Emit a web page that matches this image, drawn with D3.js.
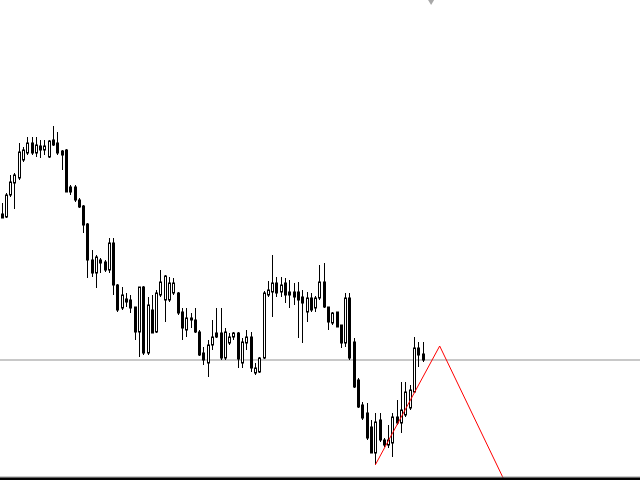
<!DOCTYPE html>
<html><head><meta charset="utf-8">
<script src="https://cdn.jsdelivr.net/npm/d3@7"></script>
<style>html,body{margin:0;padding:0;background:#fff;overflow:hidden}</style>
</head><body>
<svg id="c" width="640" height="480"></svg>
<script>
const opens  = [1.3145,1.3142,1.3164,1.3176,1.3181,1.3199,1.3206,1.3216,1.3206,1.3213,1.3209,1.3202,1.3219,1.3216,1.3208,1.3209,1.3172,1.3172,1.3159,1.3153,1.3135,1.3099,1.3086,1.3099,1.3097,1.3089,1.3116,1.3074,1.3051,1.3060,1.3059,1.3052,1.3027,1.3072,1.3006,1.3049,1.3027,1.3064,1.3059,1.3059,1.3066,1.3066,1.3047,1.3029,1.3041,1.3039,1.3027,1.3006,1.2996,1.3014,1.3026,1.3026,1.3001,1.3016,1.3022,1.3026,1.2996,1.3016,1.3022,1.2986,1.2987,1.3001,1.3064,1.3067,1.3076,1.3067,1.3076,1.3067,1.3067,1.3067,1.3062,1.3047,1.3061,1.3051,1.3061,1.3077,1.3052,1.3036,1.3047,1.3034,1.3016,1.3061,1.3017,1.2979,1.2954,1.2946,1.2932,1.2906,1.2939,1.2919,1.2914,1.2916,1.2942,1.2936,1.2944,1.2951,1.2967,1.3011,1.3005];
const highs  = [1.3156,1.3166,1.3184,1.3186,1.3216,1.3212,1.3222,1.3222,1.3222,1.3219,1.3219,1.3219,1.3233,1.3227,1.3209,1.3210,1.3174,1.3174,1.3161,1.3154,1.3136,1.3109,1.3104,1.3101,1.3099,1.3121,1.3121,1.3075,1.3072,1.3066,1.3064,1.3052,1.3072,1.3073,1.3062,1.3064,1.3069,1.3089,1.3084,1.3082,1.3081,1.3067,1.3051,1.3051,1.3046,1.3051,1.3029,1.3012,1.3019,1.3039,1.3051,1.3051,1.3031,1.3026,1.3027,1.3027,1.3021,1.3029,1.3027,1.2996,1.3002,1.3068,1.3078,1.3104,1.3082,1.3082,1.3081,1.3079,1.3076,1.3077,1.3069,1.3067,1.3066,1.3063,1.3094,1.3096,1.3052,1.3047,1.3047,1.3034,1.3066,1.3066,1.3021,1.2981,1.2957,1.2956,1.2939,1.2946,1.2946,1.2921,1.2934,1.2946,1.2959,1.2977,1.2977,1.2974,1.3022,1.3017,1.3017];
const lows   = [1.3141,1.3141,1.3162,1.3150,1.3179,1.3197,1.3204,1.3204,1.3202,1.3201,1.3204,1.3201,1.3213,1.3204,1.3189,1.3167,1.3164,1.3157,1.3151,1.3126,1.3081,1.3082,1.3071,1.3086,1.3087,1.3086,1.3064,1.3047,1.3049,1.3052,1.3046,1.3019,1.3002,1.3004,1.3004,1.3026,1.3026,1.3062,1.3037,1.3057,1.3064,1.3044,1.3019,1.3022,1.3031,1.3026,1.3003,1.2994,1.2982,1.3009,1.3021,1.2999,1.2999,1.3014,1.3019,1.2991,1.2991,1.3009,1.2987,1.2984,1.2986,1.3000,1.3062,1.3042,1.3062,1.3062,1.3056,1.3051,1.3054,1.3021,1.3016,1.3037,1.3047,1.3047,1.3059,1.3051,1.3029,1.3034,1.3032,1.3011,1.3012,1.2999,1.2971,1.2951,1.2939,1.2919,1.2906,1.2894,1.2917,1.2912,1.2911,1.2902,1.2934,1.2926,1.2942,1.2949,1.2966,1.2992,1.2997];
const closes = [1.3141,1.3164,1.3177,1.3184,1.3207,1.3209,1.3216,1.3206,1.3214,1.3209,1.3213,1.3218,1.3214,1.3206,1.3204,1.3167,1.3167,1.3159,1.3152,1.3134,1.3099,1.3086,1.3102,1.3096,1.3089,1.3116,1.3074,1.3049,1.3064,1.3057,1.3051,1.3027,1.3072,1.3006,1.3054,1.3026,1.3066,1.3077,1.3083,1.3076,1.3076,1.3046,1.3031,1.3041,1.3039,1.3027,1.3004,1.2999,1.3014,1.3022,1.3022,1.3001,1.3027,1.3022,1.3026,1.3000,1.3017,1.3022,1.2991,1.2991,1.3001,1.3066,1.3069,1.3076,1.3066,1.3074,1.3064,1.3064,1.3062,1.3059,1.3056,1.3061,1.3049,1.3061,1.3077,1.3052,1.3037,1.3046,1.3032,1.3016,1.3061,1.3001,1.2972,1.2952,1.2941,1.2921,1.2906,1.2937,1.2919,1.2914,1.2919,1.2942,1.2936,1.2949,1.2967,1.2969,1.3011,1.3004,1.2999];
const levelPrice = 1.3000;
const zigIndex = [87, 102, 117];
const zigPrice = [1.2894, 1.3013, 1.2879];
const markerIndex = 100;

const W = 640, H = 478;
const svg = d3.select("#c");
const x = d3.scaleLinear().domain([0, 98]).range([1.5, 422.5]);
const y = d3.scaleLinear().domain([1.2879, 1.3359]).range([480, 0]);

const data = opens.map((o, i) => ({i, o, h: highs[i], l: lows[i], c: closes[i]}));

svg.append("defs").append("clipPath").attr("id", "clip")
  .append("rect").attr("x", 0).attr("y", 0).attr("width", W).attr("height", H);

const g = svg.append("g").attr("clip-path", "url(#clip)");

// horizontal level line
g.append("line").attr("x1", 0).attr("x2", W)
  .attr("y1", y(levelPrice) + 1).attr("y2", y(levelPrice) + 1)
  .attr("stroke", "#c8c8c8").attr("stroke-width", 2);

const cx = d => Math.round(x(d.i)) + 0.5;
const candles = g.append("g").selectAll("g").data(data).join("g");
candles.append("line")
  .attr("x1", cx).attr("x2", cx)
  .attr("y1", d => y(d.h)).attr("y2", d => y(d.l))
  .attr("stroke", "#000").attr("stroke-width", 1);
candles.append("rect")
  .attr("x", d => cx(d) - 1).attr("width", 2)
  .attr("y", d => y(Math.max(d.o, d.c)))
  .attr("height", d => Math.max(0.5, Math.abs(y(d.o) - y(d.c))))
  .attr("fill", d => d.c >= d.o ? "#fff" : "#000")
  .attr("stroke", "#000").attr("stroke-width", 1);

// zigzag
g.append("path")
  .datum(zigIndex.map((v, k) => [v, zigPrice[k]]))
  .attr("d", d3.line().x(d => x(d[0])).y(d => y(d[1])))
  .attr("fill", "none").attr("stroke", "#ff0000").attr("stroke-width", 1);

// marker at top
const mx = x(markerIndex);
svg.append("path")
  .attr("d", `M${mx-3},0 L${mx+3},0 L${mx},5 Z`)
  .attr("fill", "#a8a8a8");

// bottom border
svg.append("rect").attr("x", 0).attr("y", 476.5).attr("width", W).attr("height", 1).attr("fill", "#9a9a9a");
svg.append("rect").attr("x", 0).attr("y", 477.5).attr("width", W).attr("height", 2.5).attr("fill", "#000");
</script>
</body></html>
